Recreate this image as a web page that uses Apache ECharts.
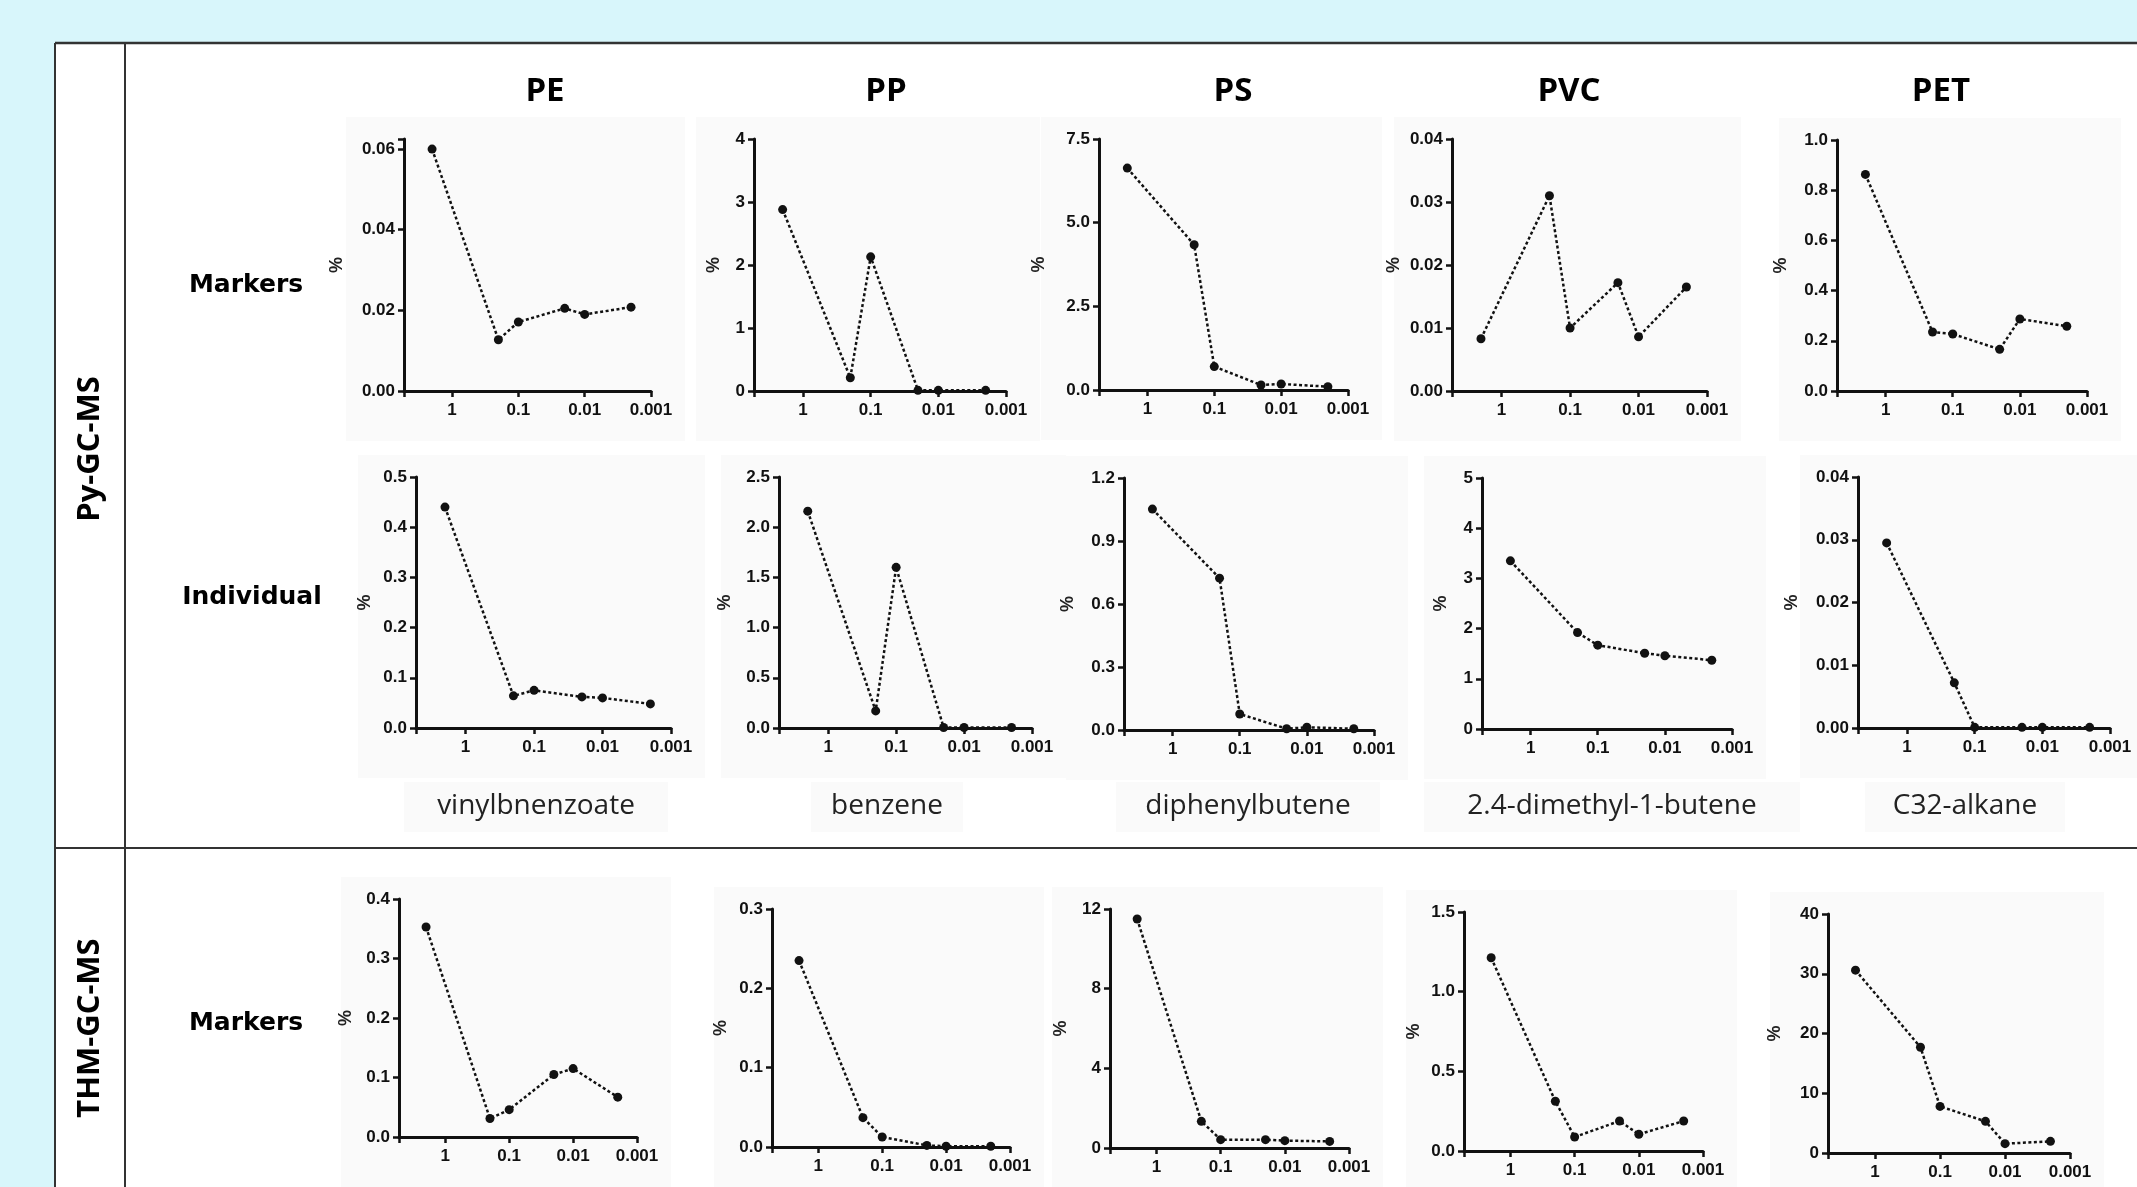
<!DOCTYPE html>
<html>
<head>
<meta charset="utf-8">
<script src="https://cdn.jsdelivr.net/npm/echarts@6/dist/echarts.min.js"></script>
<style>
html,body{margin:0;padding:0;background:#d8f6fb;}
#chart{width:2137px;height:1187px;}
</style>
</head>
<body>
<div id="chart"></div>
<script>
// ---------- data ----------
const xConc = [2, 0.2, 0.1, 0.02, 0.01, 0.002];
const xTickLabels = ['1', '0.1', '0.01', '0.001'];
const polymers = ['PE', 'PP', 'PS', 'PVC', 'PET'];
const compounds = ['vinylbnenzoate', 'benzene', 'diphenylbutene', '2.4-dimethyl-1-butene', 'C32-alkane'];
const rowLabels = ['Markers', 'Individual', 'Markers'];
const methods = ['Py-GC-MS', 'THM-GC-MS'];
const yAxisName = '%';

const pyMarkersPE  = [0.0600, 0.0127, 0.0171, 0.0205, 0.0190, 0.0208];
const pyMarkersPP  = [2.88, 0.21, 2.13, 0.01, 0.01, 0.01];
const pyMarkersPS  = [6.63, 4.34, 0.70, 0.15, 0.18, 0.10];
const pyMarkersPVC = [0.0083, 0.0310, 0.0100, 0.0172, 0.0086, 0.0165];
const pyMarkersPET = [0.863, 0.235, 0.227, 0.166, 0.287, 0.258];

const pyIndivPE  = [0.440, 0.064, 0.075, 0.062, 0.060, 0.048];
const pyIndivPP  = [2.16, 0.17, 1.60, 0.005, 0.005, 0.005];
const pyIndivPS  = [1.052, 0.723, 0.076, 0.006, 0.013, 0.006];
const pyIndivPVC = [3.35, 1.92, 1.67, 1.51, 1.46, 1.37];
const pyIndivPET = [0.0295, 0.0072, 0.0001, 0.0001, 0.0001, 0.0001];

const thmMarkersPE  = [0.353, 0.031, 0.046, 0.105, 0.115, 0.067];
const thmMarkersPP  = [0.235, 0.037, 0.0126, 0.002, 0.001, 0.001];
const thmMarkersPS  = [11.5, 1.34, 0.42, 0.42, 0.37, 0.33];
const thmMarkersPVC = [1.213, 0.312, 0.088, 0.188, 0.105, 0.188];
const thmMarkersPET = [30.6, 17.7, 7.8, 5.3, 1.56, 1.95];

// y-axis tick settings (top tick, step, decimals) per panel
const yTopRow1 = [0.0625, 4, 7.5, 0.04, 1.0];
const yStepRow1 = [0.02, 1, 2.5, 0.01, 0.2];
const yDecRow1 = [2, 0, 1, 2, 1];
const yTopRow2 = [0.5, 2.5, 1.2, 5, 0.04];
const yStepRow2 = [0.1, 0.5, 0.3, 1, 0.01];
const yDecRow2 = [1, 1, 1, 0, 2];
const yTopRow3 = [0.4, 0.3, 12, 1.5, 40];
const yStepRow3 = [0.1, 0.1, 4, 0.5, 10];
const yDecRow3 = [1, 1, 0, 1, 0];

// ---------- layout (page pixels) ----------
const panels = [
  {v: pyMarkersPE,  t: yTopRow1[0], s: yStepRow1[0], d: yDecRow1[0], L: 404,  R: 651,  T: 139, B: 391, g: 58},
  {v: pyMarkersPP,  t: yTopRow1[1], s: yStepRow1[1], d: yDecRow1[1], L: 754,  R: 1006, T: 139, B: 391, g: 31},
  {v: pyMarkersPS,  t: yTopRow1[2], s: yStepRow1[2], d: yDecRow1[2], L: 1099, R: 1348, T: 139, B: 390, g: 51},
  {v: pyMarkersPVC, t: yTopRow1[3], s: yStepRow1[3], d: yDecRow1[3], L: 1452, R: 1707, T: 139, B: 391, g: 49},
  {v: pyMarkersPET, t: yTopRow1[4], s: yStepRow1[4], d: yDecRow1[4], L: 1837, R: 2087, T: 140, B: 391, g: 47},
  {v: pyIndivPE,  t: yTopRow2[0], s: yStepRow2[0], d: yDecRow2[0], L: 416,  R: 671,  T: 477, B: 728, g: 42},
  {v: pyIndivPP,  t: yTopRow2[1], s: yStepRow2[1], d: yDecRow2[1], L: 779,  R: 1032, T: 477, B: 728, g: 45},
  {v: pyIndivPS,  t: yTopRow2[2], s: yStepRow2[2], d: yDecRow2[2], L: 1124, R: 1374, T: 478, B: 730, g: 47},
  {v: pyIndivPVC, t: yTopRow2[3], s: yStepRow2[3], d: yDecRow2[3], L: 1482, R: 1732, T: 478, B: 729, g: 32},
  {v: pyIndivPET, t: yTopRow2[4], s: yStepRow2[4], d: yDecRow2[4], L: 1858, R: 2110, T: 477, B: 728, g: 57},
  {v: thmMarkersPE,  t: yTopRow3[0], s: yStepRow3[0], d: yDecRow3[0], L: 399,  R: 637,  T: 899, B: 1137, g: 44},
  {v: thmMarkersPP,  t: yTopRow3[1], s: yStepRow3[1], d: yDecRow3[1], L: 772,  R: 1010, T: 909, B: 1147, g: 42},
  {v: thmMarkersPS,  t: yTopRow3[2], s: yStepRow3[2], d: yDecRow3[2], L: 1110, R: 1349, T: 909, B: 1148, g: 40},
  {v: thmMarkersPVC, t: yTopRow3[3], s: yStepRow3[3], d: yDecRow3[3], L: 1464, R: 1703, T: 912, B: 1151, g: 41},
  {v: thmMarkersPET, t: yTopRow3[4], s: yStepRow3[4], d: yDecRow3[4], L: 1828, R: 2070, T: 914, B: 1153, g: 44}
];

const headerX = [545, 886, 1233, 1569, 1941];
const compoundX = [536, 887, 1248, 1612, 1965];
const tickFont = 'Liberation Sans, Arial, sans-serif';
const ink = '#111';

const grids = [], xAxes = [], yAxes = [], series = [], graphics = [];

graphics.push({type: 'rect', z: 0, shape: {x: 55, y: 43, width: 2100, height: 1200}, style: {fill: '#ffffff'}});
const lineStyle = {stroke: '#333', lineWidth: 2};
graphics.push({type: 'line', z: 4, shape: {x1: 55, y1: 43, x2: 2137, y2: 43}, style: {stroke: '#333', lineWidth: 2.5}});
graphics.push({type: 'line', z: 4, shape: {x1: 55, y1: 43, x2: 55, y2: 1187}, style: lineStyle});
graphics.push({type: 'line', z: 4, shape: {x1: 125, y1: 43, x2: 125, y2: 1187}, style: lineStyle});
graphics.push({type: 'line', z: 4, shape: {x1: 55, y1: 848, x2: 2137, y2: 848}, style: lineStyle});

panels.forEach((p, i) => {
  graphics.push({type: 'rect', z: 1, shape: {x: p.L - 58, y: p.T - 22, width: (p.R - p.L) + 92, height: (p.B - p.T) + 72},
    style: {fill: '#fafafa'}});
  grids.push({left: p.L, top: p.T, width: p.R - p.L, height: p.B - p.T, containLabel: false});
  xAxes.push({
    type: 'log', logBase: 10, gridIndex: i, min: 0.001, max: 5.3, inverse: true, z: 5,
    axisLine: {show: true, onZero: false, lineStyle: {color: ink, width: 3}},
    axisTick: {show: true, length: 6, lineStyle: {color: ink, width: 2.5}},
    splitLine: {show: false},
    axisLabel: {
      margin: 11, fontSize: 17, fontWeight: 'bold', color: ink, fontFamily: tickFont,
      formatter: function (v) {
        for (const s of xTickLabels) { if (Math.abs(Math.log10(v) - Math.log10(+s)) < 1e-6) return s; }
        return '';
      }
    }
  });
  yAxes.push({
    type: 'value', gridIndex: i, min: 0, max: p.t, interval: p.s, z: 5,
    name: yAxisName, nameLocation: 'middle', nameGap: p.g,
    nameTextStyle: {fontSize: 18, fontWeight: 'bold', color: '#222', fontFamily: tickFont},
    axisLine: {show: true, onZero: false, lineStyle: {color: ink, width: 3}},
    axisTick: {show: true, length: 6, lineStyle: {color: ink, width: 2.5}},
    splitLine: {show: false},
    axisLabel: {
      margin: 9, fontSize: 17, fontWeight: 'bold', color: ink, fontFamily: tickFont,
      formatter: function (v) {
        const k = v / p.s;
        if (Math.abs(k - Math.round(k)) > 1e-6) return '';
        return v.toFixed(p.d);
      }
    }
  });
  series.push({
    type: 'line', xAxisIndex: i, yAxisIndex: i, z: 6, clip: false,
    data: xConc.map((x, j) => [x, p.v[j]]),
    symbol: 'circle', symbolSize: 9,
    itemStyle: {color: ink},
    lineStyle: {color: ink, width: 2.5, type: [3, 2.5]},
    animation: false
  });
});

polymers.forEach((t, i) => {
  graphics.push({type: 'text', z: 3, x: headerX[i], y: 92,
    style: {text: t, fill: '#000', font: 'bold 33px "Open Sans", sans-serif', textAlign: 'center', textVerticalAlign: 'middle'}});
});
compounds.forEach((t, i) => {
  const w = t.length * 16 + 40;
  graphics.push({type: 'rect', z: 1, shape: {x: compoundX[i] - w / 2, y: 782, width: w, height: 50}, style: {fill: '#fafafa'}});
  graphics.push({type: 'text', z: 3, x: compoundX[i], y: 806,
    style: {text: t, fill: '#222', font: '28px "Open Sans", sans-serif', textAlign: 'center', textVerticalAlign: 'middle'}});
});
const rowY = [285, 597, 1023];
const rowX = [246, 252, 246];
rowLabels.forEach((t, i) => {
  graphics.push({type: 'text', z: 3, x: rowX[i], y: rowY[i],
    style: {text: t, fill: '#000', font: 'bold 25px "DejaVu Sans", sans-serif', textAlign: 'center', textVerticalAlign: 'middle'}});
});
const methodY = [449, 1028];
methods.forEach((t, i) => {
  graphics.push({type: 'text', z: 3, x: 90, y: methodY[i], rotation: Math.PI / 2,
    style: {text: t, fill: '#000', font: 'bold 31px "Open Sans", sans-serif', textAlign: 'center', textVerticalAlign: 'middle'}});
});

const chart = echarts.init(document.getElementById('chart'), null, {renderer: 'canvas'});
chart.setOption({
  animation: false,
  backgroundColor: 'transparent',
  grid: grids,
  xAxis: xAxes,
  yAxis: yAxes,
  series: series,
  graphic: {elements: graphics}
});
</script>
</body>
</html>
